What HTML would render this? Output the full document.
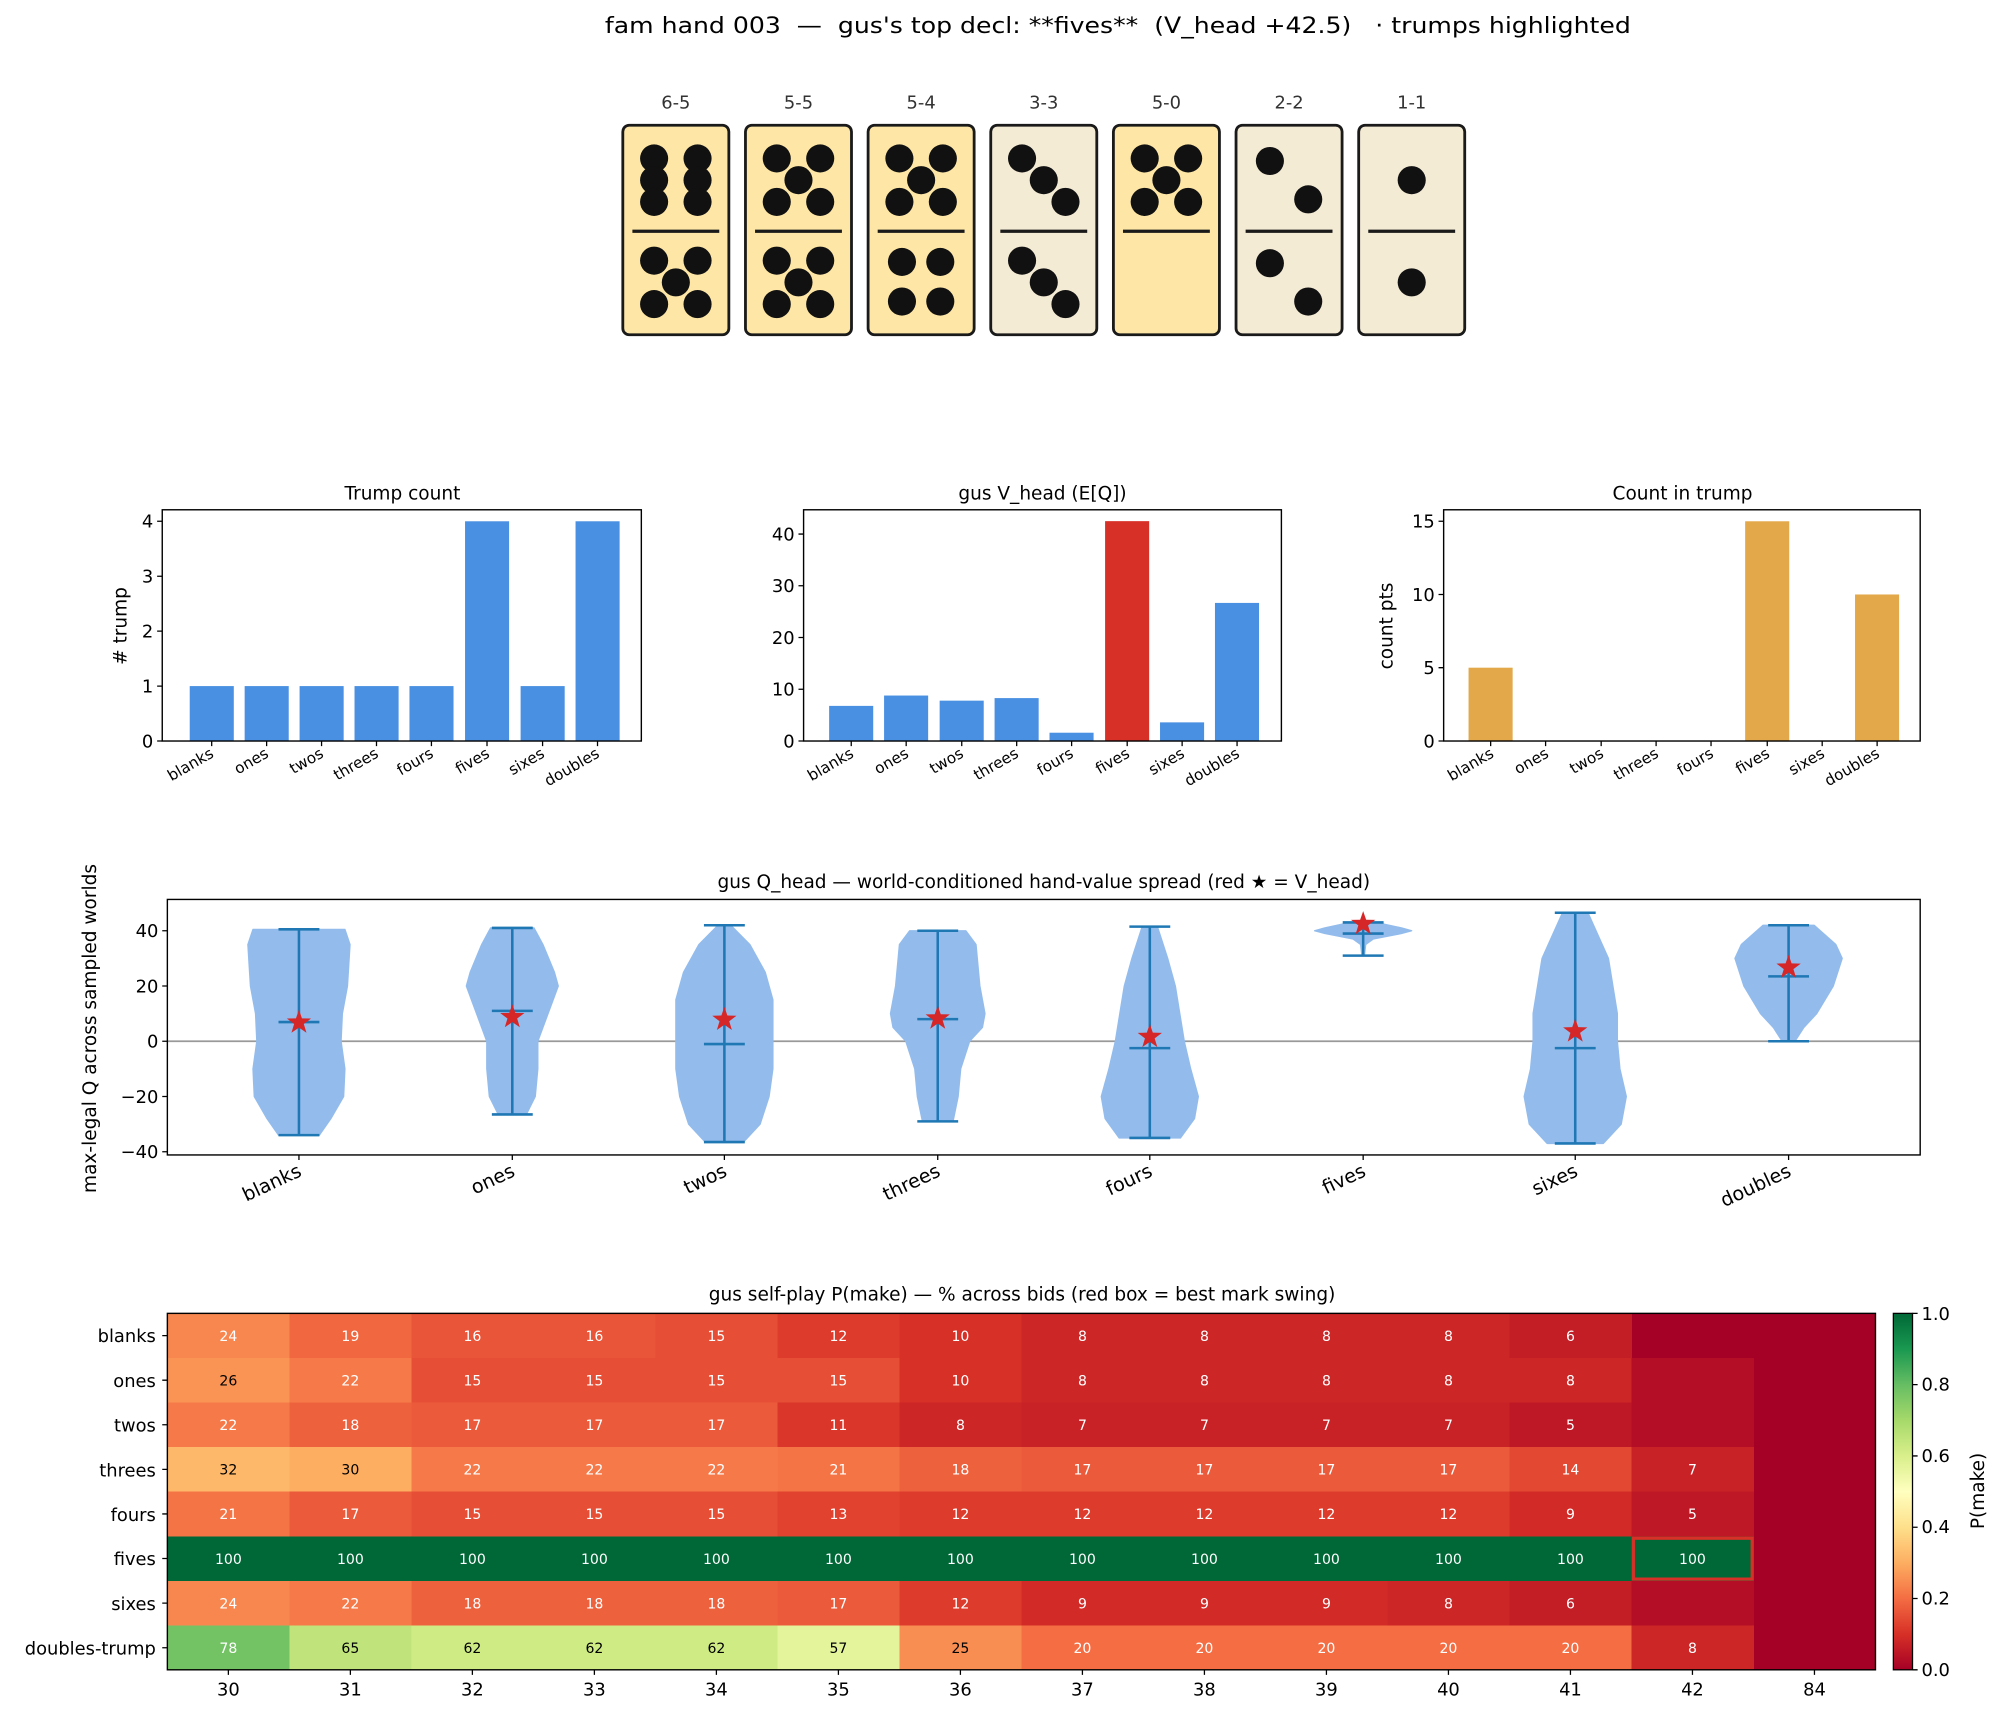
<!DOCTYPE html>
<html><head><meta charset="utf-8"><style>html,body{margin:0;padding:0;background:#fff}svg{display:block}text{font-family:"DejaVu Sans","Liberation Sans",sans-serif}</style></head><body>
<svg width="1993" height="1712" viewBox="0 0 1560 1340" xmlns="http://www.w3.org/2000/svg" fill="#000">
<rect width="1560" height="1340" fill="#fff"/>
<text x="875" y="26" font-size="17.5" text-anchor="middle" textLength="803" lengthAdjust="spacingAndGlyphs" xml:space="preserve">fam hand 003  —  gus's top decl: **fives**  (V_head +42.5)   · trumps highlighted</text>
<!-- dominoes -->
<g font-size="14" fill="#333" text-anchor="middle">
<text x="529" y="85">6-5</text><text x="625" y="85">5-5</text><text x="721" y="85">5-4</text><text x="817" y="85">3-3</text><text x="913" y="85">5-0</text><text x="1009" y="85">2-2</text><text x="1105" y="85">1-1</text>
</g>
<g stroke="#1a1a1a" stroke-width="2.2">
<rect x="487.5" y="98" width="83" height="164" rx="5" fill="#fee7a6"/>
<rect x="583.5" y="98" width="83" height="164" rx="5" fill="#fee7a6"/>
<rect x="679.5" y="98" width="83" height="164" rx="5" fill="#fee7a6"/>
<rect x="775.5" y="98" width="83" height="164" rx="5" fill="#f4ebd5"/>
<rect x="871.5" y="98" width="83" height="164" rx="5" fill="#fee7a6"/>
<rect x="967.5" y="98" width="83" height="164" rx="5" fill="#f4ebd5"/>
<rect x="1063.5" y="98" width="83" height="164" rx="5" fill="#f4ebd5"/>
<path d="M495 181H563M591 181H659M687 181H755M783 181H851M879 181H947M975 181H1043M1071 181H1139" stroke-width="2.5"/>
</g>
<g fill="#111">
<circle cx="512" cy="124" r="11"/><circle cx="546" cy="124" r="11"/><circle cx="512" cy="141" r="11"/><circle cx="546" cy="141" r="11"/><circle cx="512" cy="158" r="11"/><circle cx="546" cy="158" r="11"/>
<circle cx="512" cy="204" r="11"/><circle cx="546" cy="204" r="11"/><circle cx="529" cy="221" r="11"/><circle cx="512" cy="238" r="11"/><circle cx="546" cy="238" r="11"/>
<circle cx="608" cy="124" r="11"/><circle cx="642" cy="124" r="11"/><circle cx="625" cy="141" r="11"/><circle cx="608" cy="158" r="11"/><circle cx="642" cy="158" r="11"/>
<circle cx="608" cy="204" r="11"/><circle cx="642" cy="204" r="11"/><circle cx="625" cy="221" r="11"/><circle cx="608" cy="238" r="11"/><circle cx="642" cy="238" r="11"/>
<circle cx="704" cy="124" r="11"/><circle cx="738" cy="124" r="11"/><circle cx="721" cy="141" r="11"/><circle cx="704" cy="158" r="11"/><circle cx="738" cy="158" r="11"/>
<circle cx="706" cy="205" r="11"/><circle cx="736" cy="205" r="11"/><circle cx="706" cy="236" r="11"/><circle cx="736" cy="236" r="11"/>
<circle cx="800" cy="124" r="11"/><circle cx="817" cy="141" r="11"/><circle cx="834" cy="158" r="11"/>
<circle cx="800" cy="204" r="11"/><circle cx="817" cy="221" r="11"/><circle cx="834" cy="238" r="11"/>
<circle cx="896" cy="124" r="11"/><circle cx="930" cy="124" r="11"/><circle cx="913" cy="141" r="11"/><circle cx="896" cy="158" r="11"/><circle cx="930" cy="158" r="11"/>
<circle cx="994" cy="126" r="11"/><circle cx="1024" cy="156" r="11"/><circle cx="994" cy="206" r="11"/><circle cx="1024" cy="236" r="11"/>
<circle cx="1105" cy="141" r="11"/><circle cx="1105" cy="221" r="11"/>
</g>

<!-- bar chart 1 -->
<text x="315" y="391" font-size="14.5" text-anchor="middle">Trump count</text>
<g fill="#4a90e2">
<rect x="148.5" y="537" width="34.5" height="43"/><rect x="191.5" y="537" width="34.5" height="43"/><rect x="234.5" y="537" width="34.5" height="43"/><rect x="277.5" y="537" width="34.5" height="43"/><rect x="320.5" y="537" width="34.5" height="43"/><rect x="364" y="408" width="34.5" height="172"/><rect x="407.5" y="537" width="34.5" height="43"/><rect x="450.5" y="408" width="34.5" height="172"/>
</g>
<rect x="127" y="399" width="375" height="181" fill="none" stroke="#000" stroke-width="1.1"/>
<g stroke="#000" stroke-width="1"><path d="M127 580h-4M127 537h-4M127 494h-4M127 451h-4M127 408h-4"/>
<path d="M165.7 580v4M208.7 580v4M251.7 580v4M294.7 580v4M337.7 580v4M381.2 580v4M424.7 580v4M467.7 580v4"/></g>
<g font-size="14" text-anchor="end"><text x="120" y="585">0</text><text x="120" y="542">1</text><text x="120" y="499">2</text><text x="120" y="456">3</text><text x="120" y="413">4</text></g>
<text transform="translate(99,490) rotate(-90)" font-size="14.5" text-anchor="middle"># trump</text>
<g font-size="12" text-anchor="end">
<text transform="translate(168,592) rotate(-30)">blanks</text><text transform="translate(211,592) rotate(-30)">ones</text><text transform="translate(254,592) rotate(-30)">twos</text><text transform="translate(297,592) rotate(-30)">threes</text><text transform="translate(340,592) rotate(-30)">fours</text><text transform="translate(384,592) rotate(-30)">fives</text><text transform="translate(427,592) rotate(-30)">sixes</text><text transform="translate(470,592) rotate(-30)">doubles</text>
</g>

<!-- bar chart 2 -->
<text x="816" y="391" font-size="14.5" text-anchor="middle">gus V_head (E[Q])</text>
<g fill="#4a90e2">
<rect x="649" y="552.5" width="34.5" height="27.5"/><rect x="692" y="544.4" width="34.5" height="35.6"/><rect x="735.5" y="548.4" width="34.5" height="31.6"/><rect x="778.5" y="546.4" width="34.5" height="33.6"/><rect x="821.5" y="573.5" width="34.5" height="6.5"/><rect x="865" y="407.9" width="34.5" height="172.1" fill="#d73027"/><rect x="908" y="565.4" width="34.5" height="14.6"/><rect x="951" y="471.9" width="34.5" height="108.1"/>
</g>
<rect x="629" y="399" width="374" height="181" fill="none" stroke="#000" stroke-width="1.1"/>
<g stroke="#000" stroke-width="1"><path d="M629 580h-4M629 539.5h-4M629 499h-4M629 458.5h-4M629 418h-4"/>
<path d="M666.3 580v4M709.3 580v4M752.8 580v4M795.8 580v4M838.8 580v4M882.3 580v4M925.3 580v4M968.3 580v4"/></g>
<g font-size="14" text-anchor="end"><text x="622" y="585">0</text><text x="622" y="544.5">10</text><text x="622" y="504">20</text><text x="622" y="463.5">30</text><text x="622" y="423">40</text></g>
<g font-size="12" text-anchor="end">
<text transform="translate(669,592) rotate(-30)">blanks</text><text transform="translate(712,592) rotate(-30)">ones</text><text transform="translate(755,592) rotate(-30)">twos</text><text transform="translate(798,592) rotate(-30)">threes</text><text transform="translate(841,592) rotate(-30)">fours</text><text transform="translate(885,592) rotate(-30)">fives</text><text transform="translate(928,592) rotate(-30)">sixes</text><text transform="translate(971,592) rotate(-30)">doubles</text>
</g>

<!-- bar chart 3 -->
<text x="1317" y="391" font-size="14.5" text-anchor="middle">Count in trump</text>
<g fill="#e3a84a">
<rect x="1149.5" y="522.6" width="34.5" height="57.4"/><rect x="1366" y="408" width="34.5" height="172"/><rect x="1452" y="465.3" width="34.5" height="114.7"/>
</g>
<rect x="1130" y="399" width="373" height="181" fill="none" stroke="#000" stroke-width="1.1"/>
<g stroke="#000" stroke-width="1"><path d="M1130 580h-4M1130 522.6h-4M1130 465.3h-4M1130 408h-4"/>
<path d="M1166.8 580v4M1209.8 580v4M1253.3 580v4M1296.3 580v4M1339.3 580v4M1383.3 580v4M1426.3 580v4M1469.3 580v4"/></g>
<g font-size="14" text-anchor="end"><text x="1123" y="585">0</text><text x="1123" y="527.6">5</text><text x="1123" y="470.3">10</text><text x="1123" y="413">15</text></g>
<text transform="translate(1090,490) rotate(-90)" font-size="14.5" text-anchor="middle">count pts</text>
<g font-size="12" text-anchor="end">
<text transform="translate(1170,592) rotate(-30)">blanks</text><text transform="translate(1213,592) rotate(-30)">ones</text><text transform="translate(1256,592) rotate(-30)">twos</text><text transform="translate(1299,592) rotate(-30)">threes</text><text transform="translate(1342,592) rotate(-30)">fours</text><text transform="translate(1386,592) rotate(-30)">fives</text><text transform="translate(1429,592) rotate(-30)">sixes</text><text transform="translate(1472,592) rotate(-30)">doubles</text>
</g>

<!-- violin -->
<text x="817" y="695" font-size="14.5" text-anchor="middle">gus Q_head — world-conditioned hand-value spread (red ★ = V_head)</text>
<line x1="131" y1="815" x2="1503" y2="815" stroke="#999" stroke-width="1.3"/>
<g fill="#93bcec" stroke="#93bcec" stroke-width="1" stroke-linejoin="round">
<polygon points="270,727.4 274,739.3 272,771.75 268,793.4 267,815 270,836.6 269,858.25 259,875.6 250,888.5 218,888.5 209,875.6 199,858.25 198,836.6 201,815 200,793.4 196,771.75 194,739.3 198,727.4"/>
<polygon points="418,726.3 425,739.3 434,761 437,771.75 429,793.4 421,815 421,836.6 419,858.25 412,872.3 390,872.3 383,858.25 381,836.6 381,815 373,793.4 365,771.75 368,761 377,739.3 384,726.3"/>
<polygon points="572,724.2 587,739.3 599,761 605,782.6 605,815 605,836.6 602,858.25 595,879.9 582,893.9 552,893.9 539,879.9 532,858.25 529,836.6 529,815 529,782.6 535,761 547,739.3 562,724.2"/>
<polygon points="756,728.5 764,739.3 767,771.75 771,793.4 769,804.2 759,815 752,836.6 750,858.25 746,877.7 722,877.7 718,858.25 716,836.6 709,815 699,804.2 697,793.4 701,771.75 704,739.3 712,728.5"/>
<polygon points="906,725.3 914,750.1 920,771.75 927,815 932,836.6 938,858.25 935,875.6 924,890.7 876,890.7 865,875.6 862,858.25 868,836.6 873,815 880,771.75 886,750.1 894,725.3"/>
<polygon points="1077,722 1097,726.3 1105,728.5 1097,730.7 1075,735 1069,739.3 1068,748 1066,748 1065,739.3 1059,735 1037,730.7 1029,728.5 1037,726.3 1057,722"/>
<polygon points="1243,714.4 1259,750.1 1266,793.4 1266,815 1268,836.6 1273,858.25 1269,879.9 1255,895 1211,895 1197,879.9 1193,858.25 1198,836.6 1200,815 1200,793.4 1207,750.1 1223,714.4"/>
<polygon points="1420,724.2 1437,739.3 1442,750.1 1435,771.75 1422,793.4 1412,804.2 1405,815 1395,815 1388,804.2 1378,793.4 1365,771.75 1358,750.1 1363,739.3 1380,724.2"/>
</g>
<g stroke="#1f77b4" stroke-width="2" fill="none">
<path d="M234 727.4V888.5M218 727.4H250M218 888.5H250M218 800H250"/>
<path d="M401 726.3V872.3M385 726.3H417M385 872.3H417M385 791.2H417"/>
<path d="M567 724.2V893.9M551 724.2H583M551 893.9H583M551 817.2H583"/>
<path d="M734 728.5V877.7M718 728.5H750M718 877.7H750M718 797.7H750"/>
<path d="M900 725.3V890.7M884 725.3H916M884 890.7H916M884 820.4H916"/>
<path d="M1067 722V748M1051 722H1083M1051 748H1083M1051 730.7H1083"/>
<path d="M1233 714.4V895M1217 714.4H1249M1217 895H1249M1217 820.4H1249"/>
<path d="M1400 724.2V815M1384 724.2H1416M1384 815H1416M1384 764.2H1416"/>
</g>
<g fill="#d62728">
<path transform="translate(234,800.3)" d="M0,-10 L2.35,-3.24 9.51,-3.09 3.8,1.24 5.88,8.09 0,4 -5.88,8.09 -3.8,1.24 -9.51,-3.09 -2.35,-3.24Z"/>
<path transform="translate(401,796)" d="M0,-10 L2.35,-3.24 9.51,-3.09 3.8,1.24 5.88,8.09 0,4 -5.88,8.09 -3.8,1.24 -9.51,-3.09 -2.35,-3.24Z"/>
<path transform="translate(567,798.1)" d="M0,-10 L2.35,-3.24 9.51,-3.09 3.8,1.24 5.88,8.09 0,4 -5.88,8.09 -3.8,1.24 -9.51,-3.09 -2.35,-3.24Z"/>
<path transform="translate(734,797.1)" d="M0,-10 L2.35,-3.24 9.51,-3.09 3.8,1.24 5.88,8.09 0,4 -5.88,8.09 -3.8,1.24 -9.51,-3.09 -2.35,-3.24Z"/>
<path transform="translate(900,811.5)" d="M0,-10 L2.35,-3.24 9.51,-3.09 3.8,1.24 5.88,8.09 0,4 -5.88,8.09 -3.8,1.24 -9.51,-3.09 -2.35,-3.24Z"/>
<path transform="translate(1067,723.1)" d="M0,-10 L2.35,-3.24 9.51,-3.09 3.8,1.24 5.88,8.09 0,4 -5.88,8.09 -3.8,1.24 -9.51,-3.09 -2.35,-3.24Z"/>
<path transform="translate(1233,807.2)" d="M0,-10 L2.35,-3.24 9.51,-3.09 3.8,1.24 5.88,8.09 0,4 -5.88,8.09 -3.8,1.24 -9.51,-3.09 -2.35,-3.24Z"/>
<path transform="translate(1400,757.3)" d="M0,-10 L2.35,-3.24 9.51,-3.09 3.8,1.24 5.88,8.09 0,4 -5.88,8.09 -3.8,1.24 -9.51,-3.09 -2.35,-3.24Z"/>
</g>
<rect x="131" y="704" width="1372" height="200" fill="none" stroke="#000" stroke-width="1.1"/>
<g stroke="#000" stroke-width="1"><path d="M131 728.5h-4M131 771.75h-4M131 815h-4M131 858.25h-4M131 901.5h-4"/>
<path d="M234 904v4M401 904v4M567 904v4M734 904v4M900 904v4M1067 904v4M1233 904v4M1400 904v4"/></g>
<g font-size="14" text-anchor="end"><text x="124" y="733.5">40</text><text x="124" y="776.75">20</text><text x="124" y="820">0</text><text x="124" y="863.25">−20</text><text x="124" y="906.5">−40</text></g>
<text transform="translate(75,805) rotate(-90)" font-size="14.5" text-anchor="middle">max-legal Q across sampled worlds</text>
<g font-size="15" text-anchor="end">
<text transform="translate(237,920) rotate(-25)">blanks</text><text transform="translate(404,920) rotate(-25)">ones</text><text transform="translate(570,920) rotate(-25)">twos</text><text transform="translate(737,920) rotate(-25)">threes</text><text transform="translate(903,920) rotate(-25)">fours</text><text transform="translate(1070,920) rotate(-25)">fives</text><text transform="translate(1236,920) rotate(-25)">sixes</text><text transform="translate(1403,920) rotate(-25)">doubles</text>
</g>

<!-- heatmap -->
<text x="800" y="1018" font-size="14.5" text-anchor="middle">gus self-play P(make) — % across bids (red box = best mark swing)</text>
<rect x="131" y="1028" width="1337" height="279" fill="#a50026"/>
<g shape-rendering="crispEdges">
<rect x="131" y="1028" width="96" height="35" fill="#f8874f"/><rect x="226.5" y="1028" width="96" height="35" fill="#f16740"/><rect x="322" y="1028" width="96" height="35" fill="#e85538"/><rect x="417.5" y="1028" width="96" height="35" fill="#e85538"/><rect x="513" y="1028" width="96" height="35" fill="#e64f35"/><rect x="608.5" y="1028" width="96" height="35" fill="#dd3c2d"/><rect x="704" y="1028" width="96" height="35" fill="#d73027"/><rect x="799.5" y="1028" width="96" height="35" fill="#cd2627"/><rect x="895" y="1028" width="96" height="35" fill="#cd2627"/><rect x="990.5" y="1028" width="96" height="35" fill="#cd2627"/><rect x="1086" y="1028" width="96" height="35" fill="#cd2627"/><rect x="1181.5" y="1028" width="96" height="35" fill="#c31d26"/>
<rect x="131" y="1062.9" width="96" height="35" fill="#fa9455"/><rect x="226.5" y="1062.9" width="96" height="35" fill="#f67a49"/><rect x="322" y="1062.9" width="96" height="35" fill="#e64f35"/><rect x="417.5" y="1062.9" width="96" height="35" fill="#e64f35"/><rect x="513" y="1062.9" width="96" height="35" fill="#e64f35"/><rect x="608.5" y="1062.9" width="96" height="35" fill="#e64f35"/><rect x="704" y="1062.9" width="96" height="35" fill="#d73027"/><rect x="799.5" y="1062.9" width="96" height="35" fill="#cd2627"/><rect x="895" y="1062.9" width="96" height="35" fill="#cd2627"/><rect x="990.5" y="1062.9" width="96" height="35" fill="#cd2627"/><rect x="1086" y="1062.9" width="96" height="35" fill="#cd2627"/><rect x="1181.5" y="1062.9" width="96" height="35" fill="#cd2627"/><rect x="1277" y="1062.9" width="96" height="35" fill="#b40e26"/>
<rect x="131" y="1097.8" width="96" height="35" fill="#f67a49"/><rect x="226.5" y="1097.8" width="96" height="35" fill="#ee613d"/><rect x="322" y="1097.8" width="96" height="35" fill="#eb5b3b"/><rect x="417.5" y="1097.8" width="96" height="35" fill="#eb5b3b"/><rect x="513" y="1097.8" width="96" height="35" fill="#eb5b3b"/><rect x="608.5" y="1097.8" width="96" height="35" fill="#da362a"/><rect x="704" y="1097.8" width="96" height="35" fill="#cd2627"/><rect x="799.5" y="1097.8" width="96" height="35" fill="#c82226"/><rect x="895" y="1097.8" width="96" height="35" fill="#c82226"/><rect x="990.5" y="1097.8" width="96" height="35" fill="#c82226"/><rect x="1086" y="1097.8" width="96" height="35" fill="#c82226"/><rect x="1181.5" y="1097.8" width="96" height="35" fill="#be1826"/><rect x="1277" y="1097.8" width="96" height="35" fill="#b40e26"/>
<rect x="131" y="1132.7" width="96" height="35" fill="#fdb869"/><rect x="226.5" y="1132.7" width="96" height="35" fill="#fdae61"/><rect x="322" y="1132.7" width="96" height="35" fill="#f67a49"/><rect x="417.5" y="1132.7" width="96" height="35" fill="#f67a49"/><rect x="513" y="1132.7" width="96" height="35" fill="#f67a49"/><rect x="608.5" y="1132.7" width="96" height="35" fill="#f57446"/><rect x="704" y="1132.7" width="96" height="35" fill="#ee613d"/><rect x="799.5" y="1132.7" width="96" height="35" fill="#eb5b3b"/><rect x="895" y="1132.7" width="96" height="35" fill="#eb5b3b"/><rect x="990.5" y="1132.7" width="96" height="35" fill="#eb5b3b"/><rect x="1086" y="1132.7" width="96" height="35" fill="#eb5b3b"/><rect x="1181.5" y="1132.7" width="96" height="35" fill="#e34832"/><rect x="1277" y="1132.7" width="96" height="35" fill="#c82226"/>
<rect x="131" y="1167.6" width="96" height="35" fill="#f57446"/><rect x="226.5" y="1167.6" width="96" height="35" fill="#eb5b3b"/><rect x="322" y="1167.6" width="96" height="35" fill="#e64f35"/><rect x="417.5" y="1167.6" width="96" height="35" fill="#e64f35"/><rect x="513" y="1167.6" width="96" height="35" fill="#e64f35"/><rect x="608.5" y="1167.6" width="96" height="35" fill="#e0422f"/><rect x="704" y="1167.6" width="96" height="35" fill="#dd3c2d"/><rect x="799.5" y="1167.6" width="96" height="35" fill="#dd3c2d"/><rect x="895" y="1167.6" width="96" height="35" fill="#dd3c2d"/><rect x="990.5" y="1167.6" width="96" height="35" fill="#dd3c2d"/><rect x="1086" y="1167.6" width="96" height="35" fill="#dd3c2d"/><rect x="1181.5" y="1167.6" width="96" height="35" fill="#d22b27"/><rect x="1277" y="1167.6" width="96" height="35" fill="#be1826"/>
<rect x="131" y="1202.5" width="1242" height="35" fill="#006837"/>
<rect x="131" y="1237.4" width="96" height="35" fill="#f8874f"/><rect x="226.5" y="1237.4" width="96" height="35" fill="#f67a49"/><rect x="322" y="1237.4" width="96" height="35" fill="#ee613d"/><rect x="417.5" y="1237.4" width="96" height="35" fill="#ee613d"/><rect x="513" y="1237.4" width="96" height="35" fill="#ee613d"/><rect x="608.5" y="1237.4" width="96" height="35" fill="#eb5b3b"/><rect x="704" y="1237.4" width="96" height="35" fill="#dd3c2d"/><rect x="799.5" y="1237.4" width="96" height="35" fill="#d22b27"/><rect x="895" y="1237.4" width="96" height="35" fill="#d22b27"/><rect x="990.5" y="1237.4" width="96" height="35" fill="#d22b27"/><rect x="1086" y="1237.4" width="96" height="35" fill="#cd2627"/><rect x="1181.5" y="1237.4" width="96" height="35" fill="#c31d26"/><rect x="1277" y="1237.4" width="96" height="35" fill="#b40e26"/>
<rect x="131" y="1272.3" width="96" height="34.7" fill="#73c364"/><rect x="226.5" y="1272.3" width="96" height="34.7" fill="#c0e47b"/><rect x="322" y="1272.3" width="96" height="34.7" fill="#cfeb84"/><rect x="417.5" y="1272.3" width="96" height="34.7" fill="#cfeb84"/><rect x="513" y="1272.3" width="96" height="34.7" fill="#cfeb84"/><rect x="608.5" y="1272.3" width="96" height="34.7" fill="#e4f49b"/><rect x="704" y="1272.3" width="96" height="34.7" fill="#f98e52"/><rect x="799.5" y="1272.3" width="96" height="34.7" fill="#f46d43"/><rect x="895" y="1272.3" width="96" height="34.7" fill="#f46d43"/><rect x="990.5" y="1272.3" width="96" height="34.7" fill="#f46d43"/><rect x="1086" y="1272.3" width="96" height="34.7" fill="#f46d43"/><rect x="1181.5" y="1272.3" width="96" height="34.7" fill="#f46d43"/><rect x="1277" y="1272.3" width="96" height="34.7" fill="#cd2627"/>
</g>
<rect x="1278.5" y="1204" width="93" height="32" fill="none" stroke="#d73027" stroke-width="2.5"/>
<g font-size="11" text-anchor="middle" fill="#fff">
<text x="178.75" y="1049.5">24</text><text x="274.25" y="1049.5">19</text><text x="369.75" y="1049.5">16</text><text x="465.25" y="1049.5">16</text><text x="560.75" y="1049.5">15</text><text x="656.25" y="1049.5">12</text><text x="751.75" y="1049.5">10</text><text x="847.25" y="1049.5">8</text><text x="942.75" y="1049.5">8</text><text x="1038.25" y="1049.5">8</text><text x="1133.75" y="1049.5">8</text><text x="1229.25" y="1049.5">6</text>
<text x="178.75" y="1084.4" fill="#000">26</text><text x="274.25" y="1084.4">22</text><text x="369.75" y="1084.4">15</text><text x="465.25" y="1084.4">15</text><text x="560.75" y="1084.4">15</text><text x="656.25" y="1084.4">15</text><text x="751.75" y="1084.4">10</text><text x="847.25" y="1084.4">8</text><text x="942.75" y="1084.4">8</text><text x="1038.25" y="1084.4">8</text><text x="1133.75" y="1084.4">8</text><text x="1229.25" y="1084.4">8</text>
<text x="178.75" y="1119.3">22</text><text x="274.25" y="1119.3">18</text><text x="369.75" y="1119.3">17</text><text x="465.25" y="1119.3">17</text><text x="560.75" y="1119.3">17</text><text x="656.25" y="1119.3">11</text><text x="751.75" y="1119.3">8</text><text x="847.25" y="1119.3">7</text><text x="942.75" y="1119.3">7</text><text x="1038.25" y="1119.3">7</text><text x="1133.75" y="1119.3">7</text><text x="1229.25" y="1119.3">5</text>
<text x="178.75" y="1154.2" fill="#000">32</text><text x="274.25" y="1154.2" fill="#000">30</text><text x="369.75" y="1154.2">22</text><text x="465.25" y="1154.2">22</text><text x="560.75" y="1154.2">22</text><text x="656.25" y="1154.2">21</text><text x="751.75" y="1154.2">18</text><text x="847.25" y="1154.2">17</text><text x="942.75" y="1154.2">17</text><text x="1038.25" y="1154.2">17</text><text x="1133.75" y="1154.2">17</text><text x="1229.25" y="1154.2">14</text><text x="1324.75" y="1154.2">7</text>
<text x="178.75" y="1189.1">21</text><text x="274.25" y="1189.1">17</text><text x="369.75" y="1189.1">15</text><text x="465.25" y="1189.1">15</text><text x="560.75" y="1189.1">15</text><text x="656.25" y="1189.1">13</text><text x="751.75" y="1189.1">12</text><text x="847.25" y="1189.1">12</text><text x="942.75" y="1189.1">12</text><text x="1038.25" y="1189.1">12</text><text x="1133.75" y="1189.1">12</text><text x="1229.25" y="1189.1">9</text><text x="1324.75" y="1189.1">5</text>
<text x="178.75" y="1224">100</text><text x="274.25" y="1224">100</text><text x="369.75" y="1224">100</text><text x="465.25" y="1224">100</text><text x="560.75" y="1224">100</text><text x="656.25" y="1224">100</text><text x="751.75" y="1224">100</text><text x="847.25" y="1224">100</text><text x="942.75" y="1224">100</text><text x="1038.25" y="1224">100</text><text x="1133.75" y="1224">100</text><text x="1229.25" y="1224">100</text><text x="1324.75" y="1224">100</text>
<text x="178.75" y="1258.9">24</text><text x="274.25" y="1258.9">22</text><text x="369.75" y="1258.9">18</text><text x="465.25" y="1258.9">18</text><text x="560.75" y="1258.9">18</text><text x="656.25" y="1258.9">17</text><text x="751.75" y="1258.9">12</text><text x="847.25" y="1258.9">9</text><text x="942.75" y="1258.9">9</text><text x="1038.25" y="1258.9">9</text><text x="1133.75" y="1258.9">8</text><text x="1229.25" y="1258.9">6</text>
<text x="178.75" y="1293.8">78</text><text x="274.25" y="1293.8" fill="#000">65</text><text x="369.75" y="1293.8" fill="#000">62</text><text x="465.25" y="1293.8" fill="#000">62</text><text x="560.75" y="1293.8" fill="#000">62</text><text x="656.25" y="1293.8" fill="#000">57</text><text x="751.75" y="1293.8" fill="#000">25</text><text x="847.25" y="1293.8">20</text><text x="942.75" y="1293.8">20</text><text x="1038.25" y="1293.8">20</text><text x="1133.75" y="1293.8">20</text><text x="1229.25" y="1293.8">20</text><text x="1324.75" y="1293.8">8</text>
</g>
<rect x="131" y="1028" width="1337" height="279" fill="none" stroke="#000" stroke-width="1.1"/>
<g stroke="#000" stroke-width="1"><path d="M131 1045.4h-4M131 1080.3h-4M131 1115.2h-4M131 1150.1h-4M131 1185h-4M131 1219.9h-4M131 1254.8h-4M131 1289.7h-4"/>
<path d="M178.75 1307v4M274.25 1307v4M369.75 1307v4M465.25 1307v4M560.75 1307v4M656.25 1307v4M751.75 1307v4M847.25 1307v4M942.75 1307v4M1038.25 1307v4M1133.75 1307v4M1229.25 1307v4M1324.75 1307v4M1420.25 1307v4"/></g>
<g font-size="14" text-anchor="end"><text x="122" y="1050.5">blanks</text><text x="122" y="1085.5">ones</text><text x="122" y="1120.5">twos</text><text x="122" y="1155.5">threes</text><text x="122" y="1190.5">fours</text><text x="122" y="1225">fives</text><text x="122" y="1260">sixes</text><text x="122" y="1295">doubles-trump</text></g>
<g font-size="14" text-anchor="middle"><text x="178.75" y="1327">30</text><text x="274.25" y="1327">31</text><text x="369.75" y="1327">32</text><text x="465.25" y="1327">33</text><text x="560.75" y="1327">34</text><text x="656.25" y="1327">35</text><text x="751.75" y="1327">36</text><text x="847.25" y="1327">37</text><text x="942.75" y="1327">38</text><text x="1038.25" y="1327">39</text><text x="1133.75" y="1327">40</text><text x="1229.25" y="1327">41</text><text x="1324.75" y="1327">42</text><text x="1420.25" y="1327">84</text></g>
<defs><linearGradient id="cb" x1="0" y1="1" x2="0" y2="0">
<stop offset="0" stop-color="#a50026"/><stop offset="0.1" stop-color="#d73027"/><stop offset="0.2" stop-color="#f46d43"/><stop offset="0.3" stop-color="#fdae61"/><stop offset="0.4" stop-color="#fee08b"/><stop offset="0.5" stop-color="#ffffbf"/><stop offset="0.6" stop-color="#d9ef8b"/><stop offset="0.7" stop-color="#a6d96a"/><stop offset="0.8" stop-color="#66bd63"/><stop offset="0.9" stop-color="#1a9850"/><stop offset="1" stop-color="#006837"/>
</linearGradient></defs>
<rect x="1482" y="1028" width="15" height="279" fill="url(#cb)" stroke="#000" stroke-width="1"/>
<g stroke="#000" stroke-width="1"><path d="M1497 1307h4M1497 1251.2h4M1497 1195.4h4M1497 1139.6h4M1497 1083.8h4M1497 1028h4"/></g>
<g font-size="14"><text x="1504" y="1312">0.0</text><text x="1504" y="1256">0.2</text><text x="1504" y="1200">0.4</text><text x="1504" y="1144.5">0.6</text><text x="1504" y="1088.5">0.8</text><text x="1504" y="1033">1.0</text></g>
<text transform="translate(1553,1167) rotate(-90)" font-size="14.5" text-anchor="middle">P(make)</text>
</svg>
</body></html>
